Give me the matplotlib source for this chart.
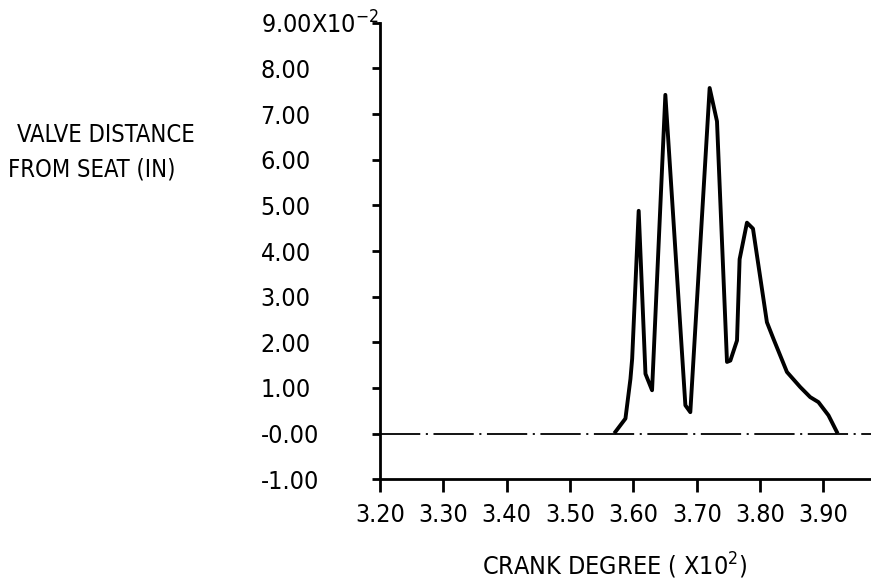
import matplotlib
matplotlib.use("Agg")
import matplotlib.pyplot as plt

plt.rcParams["font.family"] = ["DejaVu Sans"]
plt.rcParams["font.stretch"] = "condensed"
plt.rcParams["mathtext.fontset"] = "custom"
plt.rcParams["mathtext.rm"] = "DejaVu Sans:stretch=condensed"
plt.rcParams["mathtext.default"] = "regular"
plt.rcParams["lines.scale_dashes"] = False

# crank degree (x10^2) vs valve distance from seat (x10^-2 in)
crank = [3.5716, 3.5874, 3.5953, 3.598, 3.6083, 3.619, 3.6294, 3.6504,
         3.682, 3.6898, 3.7203, 3.7319, 3.7477, 3.753, 3.7635, 3.7676,
         3.7792, 3.7887, 3.8107, 3.8212, 3.8423, 3.8633, 3.879, 3.892,
         3.9079, 3.921]
lift = [0.04, 0.33, 1.20, 1.64, 4.88, 1.31, 0.95, 7.42,
        0.62, 0.47, 7.57, 6.84, 1.57, 1.60, 2.04, 3.82,
        4.62, 4.49, 2.44, 2.07, 1.35, 1.02, 0.80, 0.69,
        0.40, 0.04]

xticks = [3.20, 3.30, 3.40, 3.50, 3.60, 3.70, 3.80, 3.90]
yticks = [-1, 0, 1, 2, 3, 4, 5, 6, 7, 8, 9]
ylabels = ["-1.00", "-0.00", "1.00", "2.00", "3.00", "4.00", "5.00",
           "6.00", "7.00", "8.00", "9.00X10$^{-2}$"]

fig = plt.figure(figsize=(8.71, 5.84), dpi=100)
ax = fig.add_axes([0.4363, 0.1793, 0.5637, 0.7818])

ax.plot(crank, lift, color="black", lw=2.8, solid_joinstyle="round")
ax.axhline(0, color="black", lw=1.3, dashes=(29, 4, 1.5, 4))

ax.set_xlim(3.2, 3.975)
ax.set_ylim(-1, 9)
for s in ("top", "right"):
    ax.spines[s].set_visible(False)
for s in ("left", "bottom"):
    ax.spines[s].set_linewidth(2.0)

ax.set_xticks(xticks)
ax.set_xticklabels([f"{t:.2f}" for t in xticks])
ax.set_yticks(yticks)
ax.set_yticklabels(ylabels)
ax.tick_params(axis="x", length=9, width=2, pad=8, labelsize=18)
ax.tick_params(axis="y", length=6, width=2, pad=80, labelsize=18)
for lab in ax.get_yticklabels():
    lab.set_horizontalalignment("left")

fig.text(17 / 871, 1 - 135 / 584, "VALVE DISTANCE", fontsize=17,
         ha="left", va="center")
fig.text(8 / 871, 1 - 170 / 584, "FROM SEAT (IN)", fontsize=17,
         ha="left", va="center")
fig.text(615 / 871, 1 - 566 / 584, "CRANK DEGREE ( X10$^{2}$)", fontsize=18,
         ha="center", va="center")

fig.savefig("out.png", dpi=100)
